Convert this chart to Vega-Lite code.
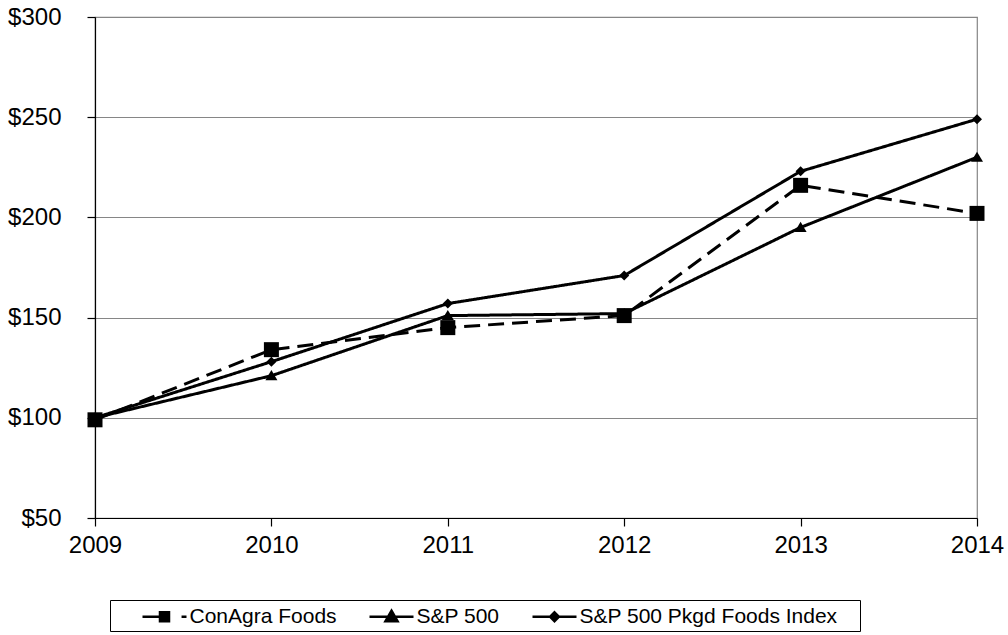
{
  "$schema": "https://vega.github.io/schema/vega-lite/v6.json",
  "width": 882,
  "height": 501,
  "autosize": {"type": "none"},
  "padding": {"left": 95, "top": 17, "right": 31, "bottom": 117},
  "background": "white",
  "config": {
    "font": "Liberation Sans",
    "view": {"stroke": "#868686", "strokeWidth": 1.2},
    "axis": {
      "labelFont": "Liberation Sans",
      "labelColor": "black",
      "labelFontSize": 24,
      "domainColor": "black",
      "domainWidth": 1.2,
      "tickColor": "black",
      "tickWidth": 1.2,
      "tickSize": 8,
      "title": null
    }
  },
  "data": {
    "values": [
      {"year": 2009, "series": "ConAgra Foods", "value": 99},
      {"year": 2010, "series": "ConAgra Foods", "value": 134},
      {"year": 2011, "series": "ConAgra Foods", "value": 145},
      {"year": 2012, "series": "ConAgra Foods", "value": 151},
      {"year": 2013, "series": "ConAgra Foods", "value": 216},
      {"year": 2014, "series": "ConAgra Foods", "value": 202},
      {"year": 2009, "series": "S&P 500", "value": 100},
      {"year": 2010, "series": "S&P 500", "value": 121},
      {"year": 2011, "series": "S&P 500", "value": 151},
      {"year": 2012, "series": "S&P 500", "value": 152},
      {"year": 2013, "series": "S&P 500", "value": 195},
      {"year": 2014, "series": "S&P 500", "value": 230},
      {"year": 2009, "series": "S&P 500 Pkgd Foods Index", "value": 100},
      {"year": 2010, "series": "S&P 500 Pkgd Foods Index", "value": 128},
      {"year": 2011, "series": "S&P 500 Pkgd Foods Index", "value": 157},
      {"year": 2012, "series": "S&P 500 Pkgd Foods Index", "value": 171},
      {"year": 2013, "series": "S&P 500 Pkgd Foods Index", "value": 223},
      {"year": 2014, "series": "S&P 500 Pkgd Foods Index", "value": 249}
    ]
  },
  "encoding": {
    "x": {
      "field": "year",
      "type": "quantitative",
      "scale": {"domain": [2009, 2014], "nice": false, "zero": false},
      "axis": {
        "values": [2009, 2010, 2011, 2012, 2013, 2014],
        "format": "d",
        "grid": false,
        "labelFlush": false,
        "labelPadding": 7,
        "title": null
      }
    },
    "y": {
      "field": "value",
      "type": "quantitative",
      "scale": {"domain": [50, 300], "nice": false, "zero": false},
      "axis": {
        "values": [50, 100, 150, 200, 250, 300],
        "format": "$.0f",
        "grid": true,
        "gridColor": "#868686",
        "gridWidth": 1.2,
        "labelPadding": 26,
        "title": null
      }
    }
  },
  "layer": [
    {
      "mark": {"type": "line", "color": "black", "strokeWidth": 3},
      "encoding": {
        "detail": {"field": "series", "type": "nominal"},
        "strokeDash": {
          "field": "series",
          "type": "nominal",
          "scale": {
            "domain": ["S&P 500", "S&P 500 Pkgd Foods Index", "ConAgra Foods"],
            "range": [[1, 0], [1, 0], [16, 8]]
          },
          "legend": null
        }
      }
    },
    {
      "mark": {"type": "point", "filled": true, "opacity": 1, "strokeWidth": 0, "size": 225},
      "encoding": {
        "shape": {
          "field": "series",
          "type": "nominal",
          "scale": {
            "domain": ["S&P 500 Pkgd Foods Index", "ConAgra Foods", "S&P 500"],
            "range": ["M0,-0.67L0.67,0L0,0.67L-0.67,0Z", "square", "M0,-0.75L0.8,0.6H-0.8Z"]
          },
          "legend": null
        },
        "fill": {
          "field": "series",
          "type": "nominal",
          "scale": {
            "domain": ["ConAgra Foods", "S&P 500", "S&P 500 Pkgd Foods Index"],
            "range": ["black", "black", "black"]
          },
          "legend": {
            "orient": "none",
            "legendX": 15,
            "legendY": 583,
            "direction": "horizontal",
            "title": "\u00a0",
            "titleOrient": "left",
            "titleFontSize": 21,
            "titlePadding": 38,
            "symbolSize": 484,
            "symbolStrokeColor": "black",
            "symbolStrokeWidth": 2.5,
            "symbolOpacity": 1,
            "labelFontSize": 21,
            "labelColor": "black",
            "labelOffset": 12.5,
            "labelLimit": 500,
            "columnPadding": 27,
            "padding": 4,
            "strokeColor": "black",
            "fillColor": "white",
            "labelExpr": "datum.label + (datum.value == 'S&P 500 Pkgd Foods Index' ? '\u00a0\u00a0\u00a0\u200b' : '')",
            "encode": {
              "symbols": {
                "update": {
                  "shape": {"signal": "datum.value == 'ConAgra Foods' ? 'M-2,0H-0.41M-0.41,-0.41H0.41V0.41H-0.41ZM1.55,0H2' : datum.value == 'S&P 500' ? 'M-2,0H2M0,-0.55L0.55,0.4H-0.55Z' : 'M-2,0H2M0,-0.4L0.4,0L0,0.4L-0.4,0Z'"},
                  "stroke": {"value": "black"},
                  "strokeWidth": {"value": 2.5},
                  "size": {"value": 484},
                  "opacity": {"value": 1}
                }
              }
            }
          }
        }
      }
    }
  ]
}
